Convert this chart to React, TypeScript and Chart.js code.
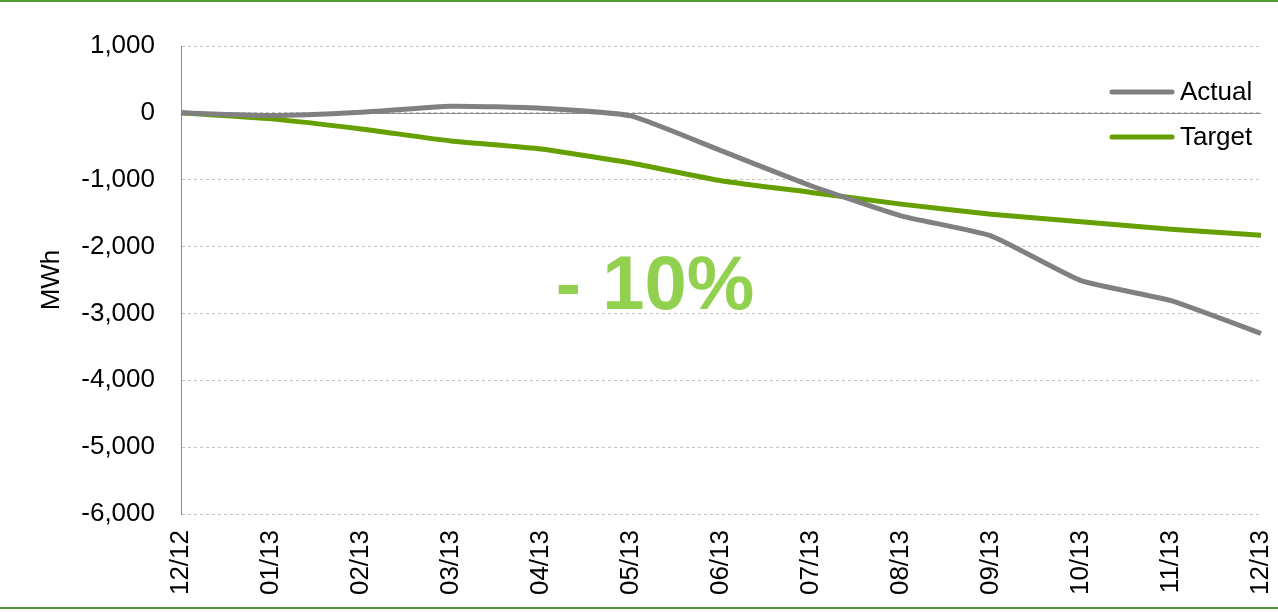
import React, { useEffect, useRef } from "react";
import { Chart, registerables } from "chart.js";

Chart.register(...registerables);

const categories = ["12/12", "01/13", "02/13", "03/13", "04/13", "05/13", "06/13", "07/13", "08/13", "09/13", "10/13", "11/13", "12/13"];
const actualValues = [0, -40, 10, 100, 70, -45, -565, -1090, -1540, -1840, -2510, -2810, -3300];
const targetValues = [0, -90, -240, -420, -540, -750, -1015, -1190, -1365, -1515, -1630, -1740, -1830];
const yTickMin = -6000;
const yTickMax = 1000;
const yTickStep = 1000;
const annotationText = "- 10%";
const yTitle = "MWh";

const FONT = "'Liberation Sans', Arial, sans-serif";
const GRAY = "#808080";
const GREEN = "#66a000";

const overlayPlugin = {
  id: "overlay",
  beforeDatasetsDraw(chart: any) {
    const { ctx, chartArea, scales } = chart;
    const y0 = Math.round(scales.y.getPixelForValue(0)) + 0.5;
    ctx.save();
    ctx.strokeStyle = "#909090";
    ctx.lineWidth = 1;
    ctx.beginPath();
    ctx.moveTo(chartArea.left, y0);
    ctx.lineTo(chartArea.right, y0);
    ctx.stroke();
    ctx.restore();
  },
  afterDraw(chart: any) {
    const { ctx } = chart;
    ctx.save();
    const items = chart.data.datasets.map((d: any, i: number) => ({
      label: d.label,
      color: d.borderColor,
      y: 92 + i * 45,
    }));
    ctx.font = `26px ${FONT}`;
    ctx.textBaseline = "middle";
    ctx.textAlign = "left";
    ctx.lineCap = "round";
    for (const it of items) {
      ctx.strokeStyle = it.color;
      ctx.lineWidth = 5;
      ctx.beginPath();
      ctx.moveTo(1112, it.y);
      ctx.lineTo(1172, it.y);
      ctx.stroke();
      ctx.fillStyle = "#000";
      ctx.fillText(it.label, 1180, it.y + 1);
    }
    ctx.font = `bold 76px ${FONT}`;
    ctx.fillStyle = "#92d050";
    ctx.textAlign = "center";
    ctx.textBaseline = "middle";
    ctx.fillText(annotationText, 655, 288);
    ctx.restore();
  },
};

export default function App() {
  const canvasRef = useRef<HTMLCanvasElement | null>(null);

  useEffect(() => {
    const canvas = canvasRef.current;
    if (!canvas) return;
    const chart = new Chart(canvas, {
      type: "line",
      data: {
        labels: categories,
        datasets: [
          {
            label: "Actual",
            data: actualValues,
            borderColor: GRAY,
            backgroundColor: GRAY,
            borderWidth: 5,
            pointRadius: 0,
            tension: 0.15,
            fill: false,
          },
          {
            label: "Target",
            data: targetValues,
            borderColor: GREEN,
            backgroundColor: GREEN,
            borderWidth: 5,
            pointRadius: 0,
            tension: 0.15,
            fill: false,
          },
        ],
      },
      options: {
        animation: false,
        responsive: false,
        maintainAspectRatio: false,
        layout: { padding: { left: 0, right: 17, top: 46, bottom: 0 } },
        plugins: {
          legend: { display: false },
          tooltip: { enabled: false },
        },
        scales: {
          x: {
            offset: false,
            grid: { display: false, drawTicks: false },
            border: { display: false },
            ticks: {
              minRotation: 90,
              maxRotation: 90,
              autoSkip: false,
              padding: 16,
              color: "#000",
              font: { family: FONT, size: 26 },
            },
            afterFit(scale: any) {
              scale.height = 98;
              scale.paddingLeft = 0;
              scale.paddingRight = 0;
            },
          },
          y: {
            min: yTickMin,
            max: yTickMax,
            grid: { color: "#c4c4c4", lineWidth: 1, drawTicks: false },
            border: { display: true, color: "#8a8a8a", width: 1, dash: [3, 3] },
            ticks: {
              stepSize: yTickStep,
              padding: 26,
              color: "#000",
              font: { family: FONT, size: 26 },
              callback: (v: any) => Number(v).toLocaleString("en-US"),
            },
            title: {
              display: true,
              text: yTitle,
              color: "#000",
              font: { family: FONT, size: 26 },
              padding: { top: 36, bottom: 0 },
            },
            afterFit(scale: any) {
              scale.width = 181;
              scale.paddingTop = 0;
              scale.paddingBottom = 0;
            },
          },
        },
      },
      plugins: [overlayPlugin],
    });
    return () => chart.destroy();
  }, []);

  return (
    <div style={{ position: "fixed", left: 0, top: 0, width: 1278, height: 612, background: "#fff" }}>
      <div style={{ position: "absolute", left: 0, top: 0, width: 1278, height: 2, background: "#4f9a35" }} />
      <canvas ref={canvasRef} width={1278} height={612} style={{ position: "absolute", left: 0, top: 0, width: 1278, height: 612 }} />
      <div style={{ position: "absolute", left: 0, top: 607, width: 1278, height: 2, background: "#4f9a35" }} />
    </div>
  );
}
